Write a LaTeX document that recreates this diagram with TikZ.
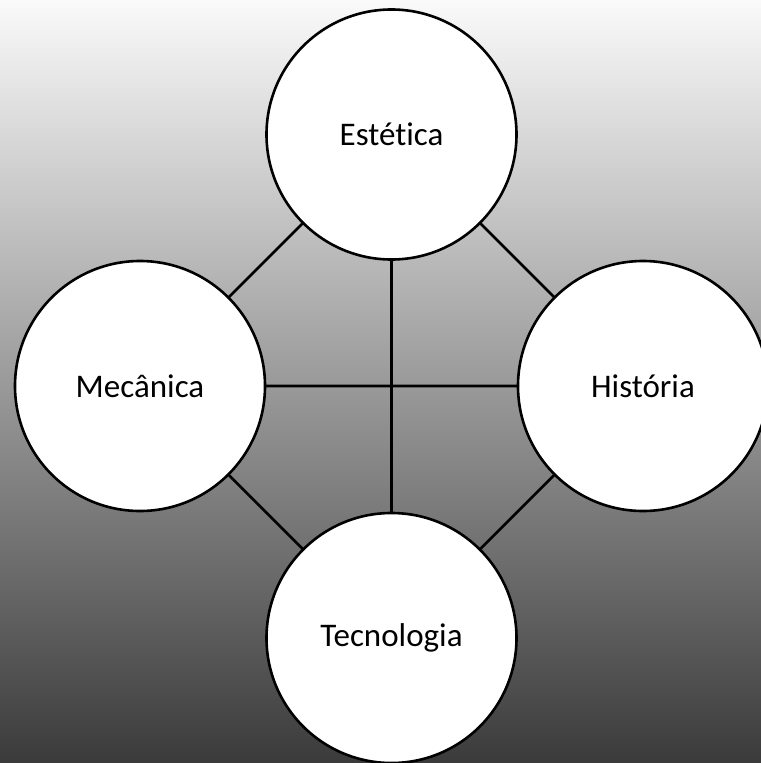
\documentclass[tikz,border=0pt]{standalone}
\usepackage{fontspec}
\setmainfont{Carlito}[Ligatures=NoCommon]
\begin{document}
\begin{tikzpicture}[x=1bp,y=-1bp,
  topic/.style={circle, draw=black, line width=2.6bp, fill=white,
    minimum size=250bp, inner sep=0pt, font=\fontsize{33bp}{39bp}\selectfont},
  link/.style={draw=black, line width=2.6bp}]
  % canvas and background gradient
  \useasboundingbox (0,0) rectangle (761,763);
  \clip (0,0) rectangle (761,763);
  \fill[top color=black!2, middle color=black!25, bottom color=black!77]
    (0,0) rectangle (761,763);
  % connectors between circle centres
  \coordinate (cT) at (391.5,134.5);
  \coordinate (cL) at (140,386);
  \coordinate (cR) at (643,386);
  \coordinate (cB) at (391.5,638);
  \path[link] (cT) -- (cL) (cL) -- (cB) (cB) -- (cR) (cR) -- (cT)
              (cT) -- (cB) (cL) -- (cR);
  % topic circles
  \node[topic] (est) at (cT) {Estética};
  \node[topic] (mec) at (cL) {Mecânica};
  \node[topic] (his) at (cR) {História};
  \node[topic] (tec) at (cB) {Tecnologia};
\end{tikzpicture}
\end{document}
